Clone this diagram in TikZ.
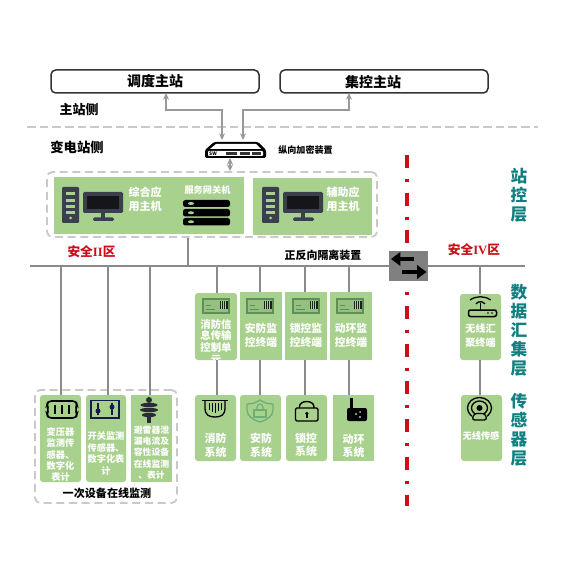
\documentclass[tikz,border=0pt]{standalone}
\usepackage{fontspec}
\setmainfont{Noto Sans CJK SC}
\newfontfamily\latf{Liberation Serif}
\usetikzlibrary{arrows.meta}
\definecolor{leaf}{HTML}{A9D18E}
\definecolor{dashgray}{HTML}{C9C9C9}
\definecolor{wire}{HTML}{8A8A8A}
\definecolor{teallabel}{HTML}{0F7F80}
\definecolor{redlabel}{HTML}{C9101A}
\definecolor{icondark}{HTML}{3B3F4B}
\definecolor{termgreen}{HTML}{5F8F58}
\definecolor{shieldgreen}{HTML}{6DAE75}
\tikzset{
 x=0.75pt,y=-0.75pt,
 px/.style={line width=#1*0.75pt},
 leafbox/.style={fill=leaf,draw=none,rounded corners=2.2pt,inner sep=0},
 leafsq/.style={fill=leaf,draw=none,inner sep=0},
 masterbox/.style={draw=black!80,fill=white,px=1.5,rounded corners=3.5pt,inner sep=0},
 zonebox/.style={draw=dashgray,dash pattern=on 6pt off 3.5pt,px=1.8,rounded corners=4pt,inner sep=0},
 wt/.style={text=white,font=\bfseries,align=center,inner sep=0},
 bt/.style={text=black,font=\bfseries,align=center,inner sep=0},
 rt/.style={text=redlabel,font=\bfseries,align=center,inner sep=0},
 vt/.style={text=teallabel,font=\fontsize{12.5pt}{14.25pt}\selectfont\bfseries,align=center,inner sep=0},
 wireline/.style={draw=wire,px=2},
 thinwire/.style={draw=wire,px=1.5},
 arrowline/.style={draw=black!40,px=1.2,{Stealth[length=5pt,width=4.5pt]}-{Stealth[length=5pt,width=4.5pt]}},
}
\newcommand{\bx}[6]{\node[#1,minimum width={(#5-#3)*0.75pt},minimum height={(#6-#4)*0.75pt}] (#2) at ({(#3+#5)/2},{(#4+#6)/2}) {};}
\newcommand{\fz}[2]{\fontsize{#1pt}{#2pt}\selectfont}
\newcommand{\computer}[1]{%
 \begin{scope}[shift={(#1,0)}]
  \fill[icondark,rounded corners=0.8pt] (0,187) rectangle (17,223);
  \foreach \yy in {192,199,205,211}{\fill[leaf] (4,\yy) rectangle (13,\yy+3);}
  \fill[leaf] (8.5,218) circle (1.5);
  \fill[icondark,rounded corners=1pt] (21,192) rectangle (61,213);
  \fill[black!65!icondark] (25,196) rectangle (57,209);
  \fill[icondark] (39,213) rectangle (43,218);
  \fill[icondark,rounded corners=1pt] (31,217.5) rectangle (52,221);
 \end{scope}}
\newcommand{\termicon}[1]{%
 \begin{scope}[shift={(#1,0)}]
  \draw[termgreen,px=1.2,fill=leaf!75!termgreen] (0,299) rectangle (26,313);
  \fill[black!75!termgreen] (17,300.5) rectangle (25,309);
  \foreach \xx in {18.5,20.5,22.5}{\draw[leaf,px=.6] (\xx,300.5) -- (\xx,309);}
  \draw[termgreen,px=1] (3,305) -- (8,305) (3,309) -- (12,309);
 \end{scope}}
\begin{document}
\begin{tikzpicture}
\useasboundingbox (0,0) rectangle (570,580);
\fill[white] (0,0) rectangle (570,580);

% separator
\coordinate (sepL) at (27,127);
\coordinate (sepR) at (538,127);
\draw[dashgray,px=1.2,dash pattern=on 6.5pt off 3pt] (sepL) -- (sepR);

% master stations
\bx{masterbox}{m1}{51}{70}{259}{93}
\bx{masterbox}{m2}{280}{70}{488}{93}
\node[bt,font=\fz{10.5}{12}\bfseries] (m1t) at (155,81) {调度主站};
\node[bt,font=\fz{10.5}{12}\bfseries] (m2t) at (373,82) {集控主站};
\node[bt,font=\fz{9.75}{12}\bfseries] (sideA) at (79,110) {主站侧};
\node[bt,font=\fz{10}{12}\bfseries] (sideB) at (77,147) {变电站侧};

% encryption device
\coordinate (swc) at (236,150);
\fill[black,rounded corners=1pt] (205,150) -- (214,142) -- (258,142) -- (266,150) -- (266,158) -- (205,158) -- cycle;
\fill[white] (216,144) -- (256,144) -- (261,149) -- (210,149) -- cycle;
\fill[white,rounded corners=.6pt] (208,151) rectangle (263,156);
\node[inner sep=0,font=\fz{3.6}{4}\bfseries] (swt) at (213,153.5) {SW};
\foreach \xa/\xb in {226/237,240/250,252/261}{\fill[black!80] (\xa,152) rectangle (\xb,155);}
\node[bt,font=\fz{6.8}{8}\bfseries] (swl) at (305.5,150) {纵向加密装置};

\coordinate (m1a) at (166,93);
\coordinate (m2a) at (349,93);
\coordinate (swa) at (222,140);
\coordinate (swb) at (243,140);
\coordinate (swdn) at (230,158);
\coordinate (bend) at (0,110);
\draw[arrowline] (m1a) -- (m1a |- bend) -- (swa |- bend) -- (swa);
\draw[arrowline] (m2a) -- (m2a |- bend) -- (swb |- bend) -- (swb);

% zone
\bx{zonebox}{zone}{47}{172}{377}{237}
\draw[arrowline] (swdn) -- (swdn |- zone.north);
\bx{leafsq}{hostA}{54}{177}{244}{234}
\bx{leafsq}{hostB}{253}{178}{372}{235}
\computer{62}
\computer{262}
\node[wt,font=\fz{8.25}{10.5}\bfseries] (hostAt) at (145,199) {综合应\\用主机};
\node[wt,font=\fz{8.25}{10.5}\bfseries] (hostBt) at (343,199) {辅助应\\用主机};
\node[wt,font=\fz{6.9}{8}\bfseries] (gwt) at (207.5,190) {服务网关机};
\foreach \ya/\yb in {200/207,209/216.5,218/225.5}{
 \fill[black,rounded corners=1.8pt] (183,\ya) rectangle (230,\yb);
 \fill[leaf] (191,{(\ya+\yb)/2}) ellipse (3 and 1.5);
}

% bus
\coordinate (busL) at (30,266);
\coordinate (busR) at (525,266);
\draw[wireline] (busL) -- (busR);
\coordinate (busZone) at (188,266);
\draw[thinwire] (zone.south -| busZone) -- (busZone);
\node[rt,font=\fz{9.5}{12}\bfseries] (s2) at (91.5,252) {安全{\latf II}区};
\node[rt,font=\fz{9.5}{12}\bfseries] (s4) at (474,250) {安全{\latf IV}区};
\node[bt,font=\fz{8.2}{10}\bfseries] (iso) at (323,255) {正反向隔离装置};

% red divider
\coordinate (divT) at (407,155);
\coordinate (divB) at (407,506);
\draw[redlabel,px=3.2,dash pattern=on 9.75pt off 8.25pt on 2.3pt off 8pt] (divT) -- (divB);

% isolator
\bx{fill=gray,inner sep=0}{isobox}{389}{251}{428}{281}
\draw[black,line width=3.4pt,-{Triangle[length=7pt,width=10pt]}] (414,259) -- (391,259);
\draw[black,line width=3.4pt,-{Triangle[length=7pt,width=10pt]}] (402,272) -- (426.5,272);

% terminals
\bx{leafbox}{t1}{195}{293}{237}{360}
\bx{leafsq}{t2}{240}{292}{282}{360}
\bx{leafsq}{t3}{285}{292}{327}{360}
\bx{leafsq}{t4}{330}{292}{372}{360}
\termicon{203}\termicon{247}\termicon{293}\termicon{337}
\node[wt,font=\fz{7.8}{8.8}\bfseries,anchor=north] (t1t) at (216,319) {消防信\\息传输\\控制单\\元};
\node[wt,font=\fz{8.1}{10}\bfseries] (t2t) at (261,335.5) {安防监\\控终端};
\node[wt,font=\fz{8.1}{10}\bfseries] (t3t) at (306,335.5) {锁控监\\控终端};
\node[wt,font=\fz{8.1}{10}\bfseries] (t4t) at (351,335.5) {动环监\\控终端};

% systems
\bx{leafbox}{y1}{195}{395}{236}{461}
\bx{leafbox}{y2}{240}{395}{281}{461}
\bx{leafbox}{y3}{286}{395}{327}{461}
\bx{leafsq}{y4}{333}{395}{374}{461}
\node[wt,font=\fz{8.2}{10.3}\bfseries] (y1t) at (215.5,445) {消防\\系统};
\node[wt,font=\fz{8.2}{10.3}\bfseries] (y2t) at (261,445) {安防\\系统};
\node[wt,font=\fz{8.2}{10.3}\bfseries] (y3t) at (306,445) {锁控\\系统};
\node[wt,font=\fz{8.2}{10.3}\bfseries] (y4t) at (353.5,446) {动环\\系统};

% fire icon
\draw[black,px=1.3] (202,400.5) -- (228,400.5);
\draw[black,px=1.3] (205,400.5) -- (205,408) .. controls (205,415) and (209,417) .. (215,417) .. controls (221,417) and (225,415) .. (225,408) -- (225,400.5);
\foreach \xx/\yy in {209/410,212/412,215/413,218/411,221/410}{\draw[black,px=1] (\xx,403) -- (\xx,\yy);}
% shield icon
\draw[shieldgreen,px=1.3] (247,404) .. controls (253,404) and (257,402) .. (260,400) .. controls (263,402) and (267,404) .. (273,404) -- (273,410) .. controls (273,416) and (267,420) .. (260,422) .. controls (253,420) and (247,416) .. (247,410) -- cycle;
\draw[shieldgreen,px=1.2] (254,410) rectangle (266,417);
\draw[shieldgreen,px=1.2] (257,410) -- (257,407) arc (180:360:3) -- (263,410);
% lock icon
\draw[black,px=1.4,rounded corners=1pt] (295.5,408) rectangle (318,421);
\draw[black,px=1.4] (299.5,408) -- (299.5,406.5) arc (180:360:7.2 and 5) -- (313.9,408);
\fill[black] (306.8,413.5) circle (1.7);
\fill[black] (306,413.5) rectangle (307.6,418);
% ring icon
\fill[black,rounded corners=1.5pt] (347,408) rectangle (367,421);
\fill[black] (350,398) rectangle (352.5,409);
\fill[leaf] (356,414) circle (1.1) (360,412) circle (1) (360,417) circle (1.1);

% wires top group
\coordinate (bt1) at (217,266);
\coordinate (bt2) at (260,266);
\coordinate (bt3) at (305,266);
\coordinate (bt4) at (349,266);
\draw[wireline] (bt1) -- (bt1 |- t1.north);
\draw[wireline] (bt2) -- (bt2 |- t2.north);
\draw[wireline] (bt3) -- (bt3 |- t3.north);
\draw[wireline] (bt4) -- (bt4 |- t4.north);
\draw[wireline] (bt1 |- t1.south) -- (bt1 |- y1.north);
\draw[wireline] (bt2 |- t2.south) -- (bt2 |- y2.north);
\draw[wireline] (bt3 |- t3.south) -- (bt3 |- y3.north);
\draw[wireline] (bt4 |- t4.south) -- (bt4 |- y4.north);

% online monitoring zone
\bx{zonebox}{mon}{35}{390}{177}{503}
\bx{leafbox}{g1}{40}{395}{81}{482}
\bx{leafbox}{g2}{86}{395}{126}{482}
\bx{leafsq}{g3}{131}{395}{172}{482}
\coordinate (bg1) at (61,266);
\coordinate (bg2) at (108,266);
\coordinate (bg3) at (150,266);
\draw[wireline] (bg1) -- (bg1 |- g1.north);
\draw[wireline] (bg2) -- (bg2 |- g2.north);
\draw[wireline] (bg3) -- (bg3 |- g3.north);
\node[wt,font=\fz{6.9}{8.6}\bfseries] (g1t) at (60.5,454.5) {变压器\\监测传\\感器、\\数字化\\表计};
\node[wt,font=\fz{6.9}{8.6}\bfseries] (g2t) at (106,453.5) {开关监测\\传感器、\\数字化表\\计};
\node[wt,font=\fz{6.6}{8.4}\bfseries] (g3t) at (151.5,452.5) {避雷器泄\\漏电流及\\容性设备\\在线监测\\、表计};
\node[bt,font=\fz{8.3}{10}\bfseries] (mont) at (107,493) {一次设备在线监测};
% transformer icon
\draw[black,px=1.6,rounded corners=2.5pt,fill=leaf] (48,401) -- (76,401) -- (77,405) -- (75.5,409.5) -- (77,414) -- (76,418) -- (48,418) -- (47,414) -- (48.5,409.5) -- (47,405) -- cycle;
\foreach \xx in {55,62,69}{\draw[black,px=1.6] (\xx,405) -- (\xx,414);}
% switch icon
\draw[black!70!blue!60!icondark,px=1.5] (91,400.5) rectangle (119,418);
\draw[black!70!blue!60!icondark,px=1.3] (98,403) -- (98,415) (112,403) -- (112,415);
\fill[black!70!blue!60!icondark] (98,411) circle (2.5) (112,407) circle (2.5);
% arrester icon
\fill[icondark!70!black] (149,400) circle (3);
\fill[icondark!70!black] (149,405) ellipse (8.5 and 2.2);
\fill[icondark!70!black] (149,410) ellipse (9 and 2.2);
\fill[icondark!70!black] (149,415) ellipse (7 and 2.2);
\fill[icondark!70!black] (147,417) rectangle (151,423);

% wireless
\bx{leafbox}{w1}{460}{294}{501}{360}
\bx{leafbox}{w2}{461}{395}{502}{461}
\coordinate (bw) at (480,266);
\draw[thinwire] (bw) -- (bw |- w1.north);
\draw[thinwire] (bw |- w1.south) -- (bw |- w2.north);
\node[wt,font=\fz{7.6}{10.5}\bfseries] (w1t) at (480.5,336) {无线汇\\聚终端};
\node[wt,font=\fz{6.9}{8}\bfseries] (w2t) at (481,436) {无线传感};
% router icon
\draw[black,px=1.5,rounded corners=1.5pt] (468.5,310) rectangle (496.5,316.5);
\fill[black] (488,313) circle (.8) (492,313) circle (.8);
\draw[black,px=1.3] (480.5,303) -- (480.5,310);
\draw[black,px=1.3] (475.9,303.8) arc (220:320:6);
\draw[black,px=1.3] (470,300) arc (235:305:18);
% wireless sensor icon
\draw[black,px=1.3] (479.5,408) circle (12 and 10.5);
\draw[black,px=1.3] (479.5,408) circle (8 and 7);
\fill[leaf] (472,414) rectangle (487,422);
\fill[black] (479.5,408) circle (3);
\draw[black,px=1.3,rounded corners=2pt] (472,420) -- (474,413.5) -- (485,413.5) -- (487,420) -- cycle;

% layer labels
\node[vt] (l1) at (519,195.5) {站\\控\\层};
\node[vt] (l2) at (519,330.5) {数\\据\\汇\\集\\层};
\node[vt] (l3) at (519,430) {传\\感\\器\\层};
\end{tikzpicture}
\end{document}
